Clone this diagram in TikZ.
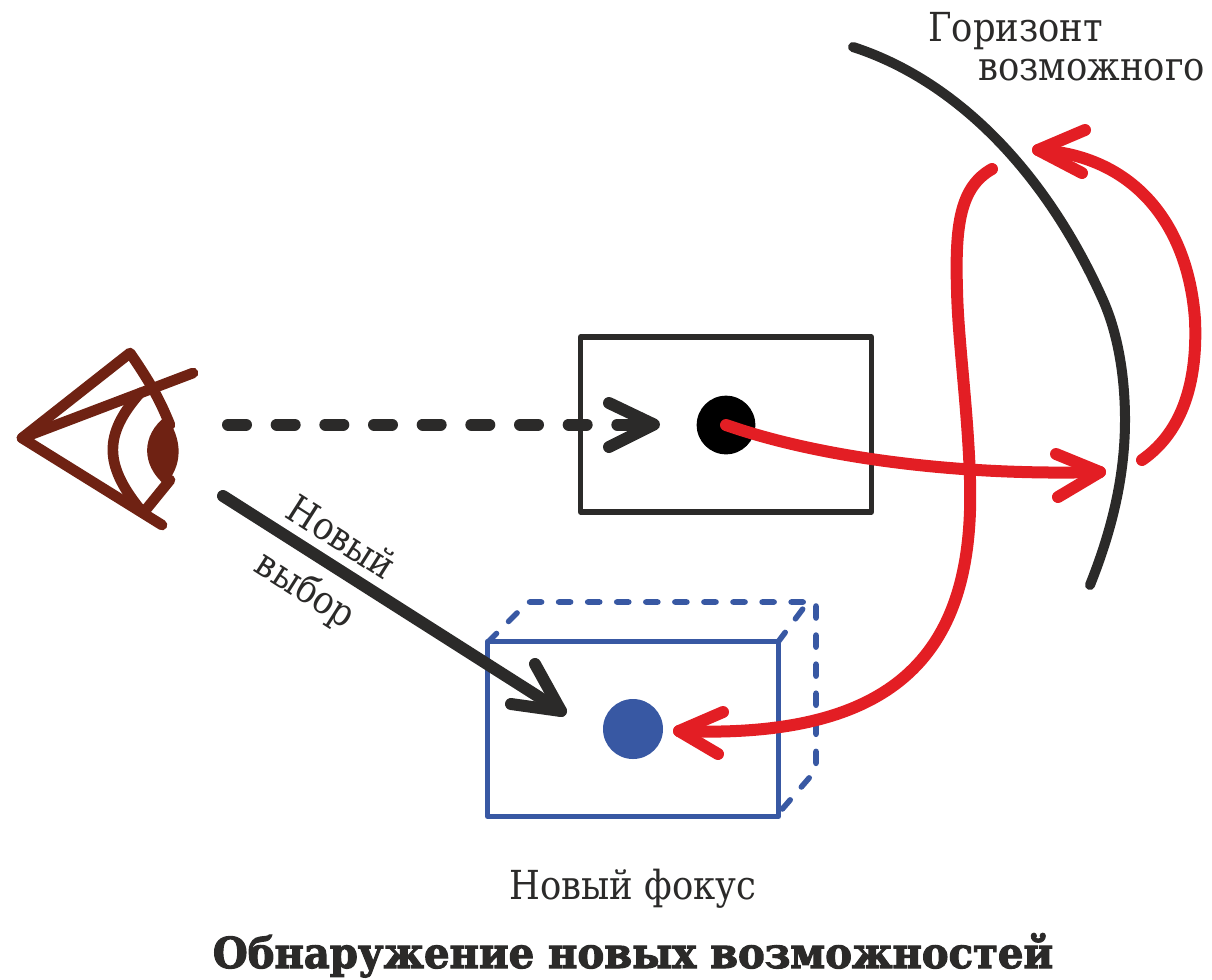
\documentclass[tikz,border=0pt]{standalone}
\usepackage{fontspec}
\setmainfont{DejaVu Serif}
\newfontfamily\capfont[FakeStretch=0.885]{DejaVu Serif}
\newfontfamily\titlefont[FakeStretch=0.94,BoldFeatures={FakeBold=2.5}]{DejaVu Serif}
\definecolor{ink}{HTML}{2B2A29}
\definecolor{redc}{HTML}{E31E24}
\definecolor{bluec}{HTML}{3858A3}
\definecolor{eyec}{HTML}{6F2213}
\tikzset{
  px/.style={line cap=round,line join=round},
  redline/.style={px,draw=redc,line width=9pt},
  blackline/.style={px,draw=ink,line width=9pt},
  framebox/.style={line width=4.2pt,minimum width=218pt,minimum height=131pt,inner sep=0pt,line join=round},
  bluedash/.style={px,draw=bluec,line width=4.2pt,dash pattern=on 9pt off 12.8pt},
  eyeline/.style={px,draw=eyec,line width=8pt},
  lbl/.style={inner sep=0pt,text=ink,font=\capfont\fontsize{30}{34}\selectfont},
  lblrot/.style={inner sep=0pt,text=ink,font=\capfont\fontsize{29}{32}\selectfont,rotate=-32.5},
}
\begin{document}
\begin{tikzpicture}[x=0.75pt,y=-0.75pt]
\useasboundingbox (0,0) rectangle (1212,979);
% horizon
\coordinate (hA) at (853,47);
\coordinate (hB) at (1090,585);
\draw[px,draw=ink,line width=7.5pt] (hA) .. controls (955,80) and (1045,170) .. (1103,300) .. controls (1119,336) and (1125,380) .. (1125,420) .. controls (1125,480) and (1110,535) .. (hB);
\node[lbl,anchor=base west] (hor1) at (928,41.5) {Горизонт};
\node[lbl,anchor=base west] (hor2) at (978,80) {возможного};
% top frame
\node[framebox,draw=ink] (f1) at (726,424.5) {};
\node[circle,fill=black,minimum size=44pt,inner sep=0pt] (d1) at (726,425) {};
% blue box back
\coordinate (b1) at (488,642);
\coordinate (b2) at (528,602);
\coordinate (b3) at (808,602);
\coordinate (b4) at (778,642);
\coordinate (b5) at (816,606);
\coordinate (b6) at (816,770);
\coordinate (b7) at (778,814);
\draw[bluedash] (b1) -- (b2) -- (b3);
\draw[bluedash] (b4) -- (b3);
\draw[bluedash] (b5) -- (b6) -- (b7);
\node[framebox,draw=bluec] (f2) at (633,729) {};
\node[circle,fill=bluec,minimum size=45pt,inner sep=0pt] (d2) at (633,729) {};
% dashed arrow
\coordinate (eA) at (228,424.5);
\coordinate (eB) at (654,424.5);
\draw[blackline,dash pattern=on 13.5pt off 23pt] (eA) -- (eB);
\coordinate (eB1) at (609,403);
\coordinate (eB2) at (609,447);
\draw[blackline] (eB1) -- (eB) -- (eB2);
% black arrow
\coordinate (nA) at (223,496);
\coordinate (nB) at (561,711);
\coordinate (nB1) at (535,664);
\coordinate (nB2) at (511,704);
\draw[blackline] (nA) -- (nB);
\draw[blackline] (nB1) -- (nB) -- (nB2);
\node[lblrot] (nv) at (342,537) {Новый};
\node[lblrot] (vb) at (305,591) {выбор};
% red arrows
\coordinate (r1B) at (1100,472);
\draw[redline] (d1.center) .. controls (820,458) and (960,476) .. (r1B);
\coordinate (r1a) at (1056,454);
\coordinate (r1b) at (1058,497);
\draw[redline] (r1a) -- (r1B) -- (r1b);
\coordinate (r2A) at (1142,460);
\coordinate (r2M) at (1195,320);
\coordinate (r2B) at (1038,150);
\draw[redline] (r2A) .. controls (1178,435) and (1198,390) .. (r2M) .. controls (1188,220) and (1130,155) .. (r2B);
\coordinate (r2a) at (1085,130);
\coordinate (r2b) at (1082,173);
\draw[redline] (r2a) -- (r2B) -- (r2b);
\coordinate (r3A) at (992,169);
\coordinate (r3B) at (679,731);
\draw[redline] (r3A) .. controls (960,187) and (955,225) .. (957,290) .. controls (958,340) and (968,410) .. (970,480) .. controls (975,650) and (900,740) .. (r3B);
\coordinate (r3a) at (723,712);
\coordinate (r3b) at (718,754);
\draw[redline] (r3a) -- (r3B) -- (r3b);
% eye
\coordinate (apex) at (22,438);
\coordinate (top) at (130,353);
\coordinate (lidU) at (193,373);
\coordinate (lidL) at (162,525);
\draw[eyeline] (lidU) -- (apex) -- (lidL);
\draw[eyeline] (apex) -- (top) .. controls (150,382) and (160,400) .. (170,425);
\draw[eyeline] (170,480) -- (144,512);
\draw[eyeline] (140,393) .. controls (103,435) and (105,465) .. (139,508);
\fill[eyec] (166,416) .. controls (183,440) and (183,465) .. (165,485) .. controls (141,465) and (141,435) .. cycle;
% captions
\node[lbl,anchor=base] (nf) at (633,899) {Новый фокус};
\node[inner sep=0pt,text=ink,anchor=base,font=\titlefont\bfseries\fontsize{32}{36}\selectfont] (title) at (633,968) {Обнаружение новых возможностей};
\end{tikzpicture}
\end{document}
